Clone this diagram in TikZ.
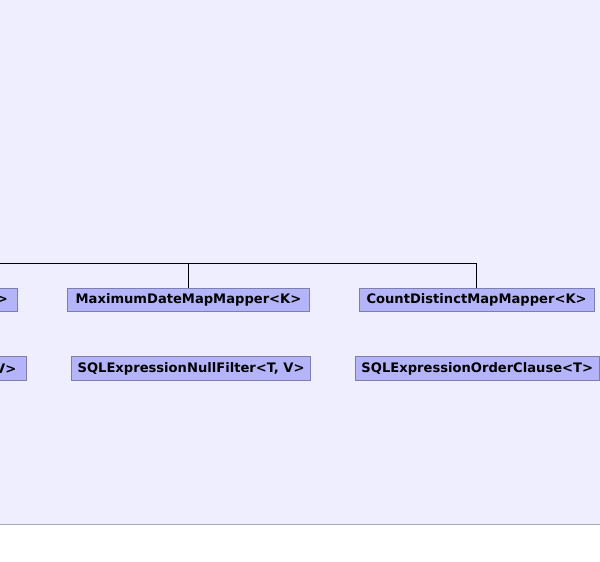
\documentclass[tikz,border=0pt]{standalone}
\usepackage{fontspec}
\setmainfont{DejaVu Sans}
\definecolor{bg}{RGB}{238,238,255}
\definecolor{boxfill}{RGB}{180,180,250}
\definecolor{boxline}{RGB}{125,125,175}
\definecolor{rule}{RGB}{165,165,185}
\begin{document}
\begin{tikzpicture}[x=1pt,y=-1pt,
  cls/.style={draw=boxline, fill=boxfill, line width=0.8pt, inner sep=0pt,
    minimum height=23.3pt, font=\fontsize{13.1}{14}\selectfont\bfseries},
  edge/.style={line width=0.9pt, draw=black}]
\useasboundingbox (0,0) rectangle (600,562);
\clip (0,0) rectangle (600,562);
\fill[bg] (0,0) rectangle (600,524);
\draw[line width=1.2pt, draw=rule] (0,524.4) -- (600,524.4);
% row 1
\node[cls, anchor=east, text width=140pt, align=right, inner xsep=9pt] (l1) at (17.3,299.8) {>};
\node[cls, minimum width=242.4pt] (max) at (188.5,299.8) {MaximumDateMapMapper<K>};
\node[cls, minimum width=235pt] (cnt) at (476.6,299.8) {CountDistinctMapMapper<K>};
% row 2
\node[cls, anchor=east, text width=140pt, align=right, inner xsep=10pt] (l2) at (26.7,368.5) {V>};
\node[cls, minimum width=238.9pt] (nul) at (191.1,368.5) {SQLExpressionNullFilter<T, V>};
\node[cls, minimum width=244pt] (ord) at (477.3,368.5) {SQLExpressionOrderClause<T>};
% connectors
\coordinate (hl) at (-5,263.3);
\draw[edge] (hl) -| (cnt.north);
\draw[edge] (max.north) -- (max.north |- hl);
\end{tikzpicture}
\end{document}
